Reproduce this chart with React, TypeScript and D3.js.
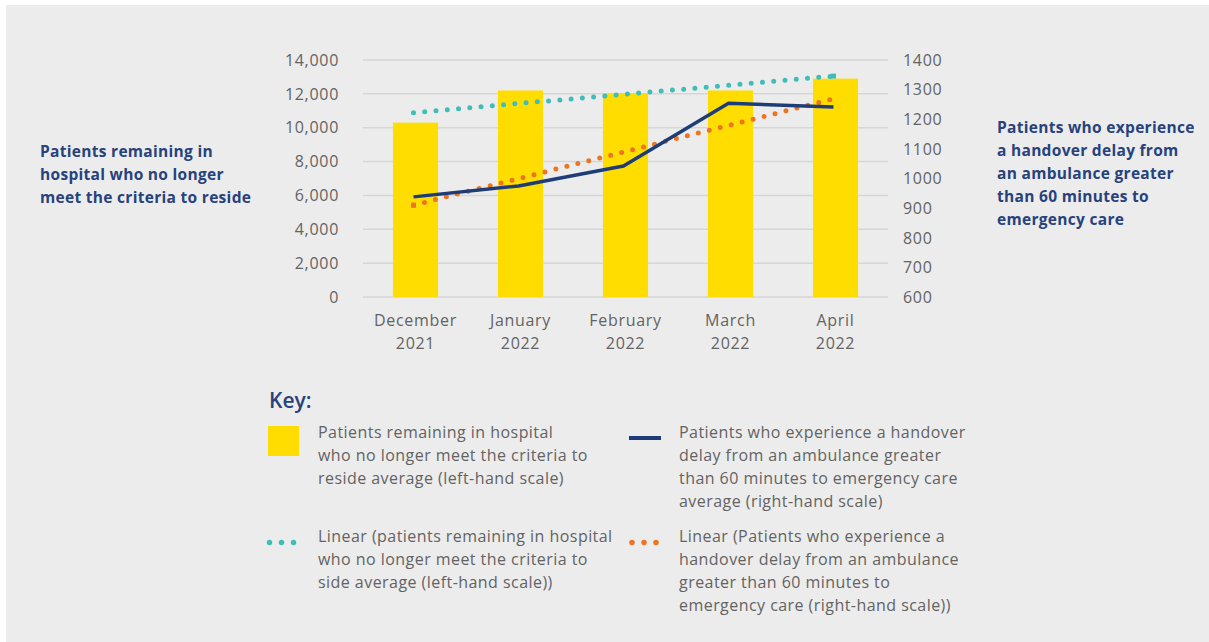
import React from 'react';
import * as d3 from 'd3';

const categories: string[][] = [
  ['December', '2021'],
  ['January', '2022'],
  ['February', '2022'],
  ['March', '2022'],
  ['April', '2022'],
];
const bedValues = [10300, 12200, 12050, 12200, 12900];
const handoverValues = [938, 975, 1042, 1254, 1241];
// trend line end points (first and last category)
const bedTrend = [10890, 13050];
const handoverTrend = [910, 1269];
const leftTicks = [0, 2000, 4000, 6000, 8000, 10000, 12000, 14000];
const rightTicks = [600, 700, 800, 900, 1000, 1100, 1200, 1300, 1400];

const leftTitle = ['Patients remaining in', 'hospital who no longer', 'meet the criteria to reside'];
const rightTitle = ['Patients who experience', 'a handover delay from', 'an ambulance greater', 'than 60 minutes to', 'emergency care'];
const key1 = ['Patients remaining in hospital', 'who no longer meet the criteria to', 'reside average (left-hand scale)'];
const key2 = ['Patients who experience a handover', 'delay from an ambulance greater', 'than 60 minutes to emergency care', 'average (right-hand scale)'];
const key3 = ['Linear (patients remaining in hospital', 'who no longer meet the criteria to', 'side average (left-hand scale))'];
const key4 = ['Linear (Patients who experience a', 'handover delay from an ambulance', 'greater than 60 minutes to', 'emergency care (right-hand scale))'];

const W = 1209;
const H = 642;
const FONT = "'Open Sans', sans-serif";
const YELLOW = '#FFDD00';
const NAVY = '#1E3D77';
const TEAL = '#3FBDB8';
const ORANGE = '#EE7421';
const GRAY_TEXT = '#636363';
const TITLE = '#27427C';

export default function App() {
  const keys = categories.map((c) => c.join(' '));
  const x = d3.scaleBand<string>().domain(keys).range([363, 888]).paddingInner(0.57).paddingOuter(0.285);
  const yL = d3.scaleLinear().domain([0, 14000]).range([297, 60]);
  const yR = d3.scaleLinear().domain([600, 1400]).range([297, 60]);
  const cx = (i: number) => (x(keys[i]) as number) + x.bandwidth() / 2 - 2;

  const navyLine = d3
    .line<number>()
    .x((_, i) => cx(i))
    .y((d) => yR(d))(handoverValues) as string;

  const lastI = keys.length - 1;
  const tealPts: [number, number][] = [
    [cx(0), yL(bedTrend[0])],
    [cx(lastI), yL(bedTrend[1])],
  ];
  const orangePts: [number, number][] = [
    [cx(0), yR(handoverTrend[0])],
    [cx(lastI), yR(handoverTrend[1])],
  ];
  const seg = d3.line();

  const textLines = (lines: string[], x0: number, y0: number, dy: number, props: any) =>
    lines.map((l, i) => (
      <text key={i} x={x0} y={y0 + i * dy} {...props}>
        {l}
      </text>
    ));

  const legendText = { fontFamily: FONT, fontSize: 16, letterSpacing: 0.45, fill: GRAY_TEXT };
  const tickText = { fontFamily: FONT, fontSize: 16, letterSpacing: 0.7, fill: GRAY_TEXT };
  const titleText = { fontFamily: FONT, fontSize: 15.5, fontWeight: 700, letterSpacing: 0.3, fill: TITLE };

  return (
    <div style={{ position: 'absolute', left: 0, top: 0 }}>
      <svg width={W} height={H} style={{ display: 'block' }}>
        <rect x={0} y={0} width={W} height={H} fill="#ffffff" />
        <rect x={6} y={5} width={W - 6} height={H - 5} fill="#ECECEC" />

        {/* gridlines */}
        {leftTicks.map((t) => (
          <line key={t} x1={363} x2={888} y1={yL(t)} y2={yL(t)} stroke="#D6D6D6" strokeWidth={1.5} />
        ))}

        {/* bars */}
        {bedValues.map((v, i) => (
          <rect
            key={i}
            x={x(keys[i])}
            y={yL(v)}
            width={x.bandwidth()}
            height={yL(0) - yL(v)}
            fill={YELLOW}
          />
        ))}

        {/* teal trend */}
        <path
          d={seg(tealPts) as string}
          stroke={TEAL}
          strokeWidth={5}
          strokeDasharray="0 11.3"
          strokeLinecap="round"
          fill="none"
        />
        <rect x={tealPts[1][0] - 2.5} y={tealPts[1][1] - 2.5} width={5} height={5} fill={TEAL} />

        {/* orange trend */}
        <path
          d={seg(orangePts) as string}
          stroke={ORANGE}
          strokeWidth={5}
          strokeDasharray="0 11.3"
          strokeLinecap="round"
          fill="none"
        />
        <rect x={orangePts[0][0] - 2.5} y={orangePts[0][1] - 2.5} width={5} height={5} fill={ORANGE} />

        {/* navy line */}
        <path d={navyLine} stroke={NAVY} strokeWidth={3.5} fill="none" strokeLinejoin="round" />

        {/* left ticks */}
        {leftTicks.map((t) => (
          <text key={t} x={339} y={yL(t)} dy="0.36em" textAnchor="end" {...tickText}>
            {d3.format(',')(t)}
          </text>
        ))}

        {/* right ticks */}
        {rightTicks.map((t) => (
          <text key={t} x={903} y={yR(t)} dy="0.36em" {...tickText}>
            {t}
          </text>
        ))}

        {/* x labels */}
        {categories.map((c, i) => (
          <g key={i}>
            <text x={cx(i) + 2} y={326} textAnchor="middle" {...tickText}>
              {c[0]}
            </text>
            <text x={cx(i) + 2} y={349} textAnchor="middle" {...tickText}>
              {c[1]}
            </text>
          </g>
        ))}

        {/* axis titles */}
        {textLines(leftTitle, 40, 157, 23, titleText)}
        {textLines(rightTitle, 997, 133, 23, titleText)}

        {/* key */}
        <text x={269} y={408} fontFamily={FONT} fontSize={21} fontWeight={600} fill={TITLE}>
          Key:
        </text>
        <rect x={268} y={426} width={31} height={30} fill={YELLOW} />
        {textLines(key1, 318, 438, 23, legendText)}

        <line x1={629} x2={661} y1={438} y2={438} stroke={NAVY} strokeWidth={4} />
        {textLines(key2, 679, 438, 23, legendText)}

        <path
          d={seg([
            [269.5, 542.5],
            [294.5, 542.5],
          ]) as string}
          stroke={TEAL}
          strokeWidth={5.5}
          strokeDasharray="0 12"
          strokeLinecap="round"
          fill="none"
        />
        {textLines(key3, 318, 542, 23, legendText)}

        <path
          d={seg([
            [632, 542.5],
            [657, 542.5],
          ]) as string}
          stroke={ORANGE}
          strokeWidth={5.5}
          strokeDasharray="0 12"
          strokeLinecap="round"
          fill="none"
        />
        {textLines(key4, 679, 542, 23, legendText)}
      </svg>
    </div>
  );
}
